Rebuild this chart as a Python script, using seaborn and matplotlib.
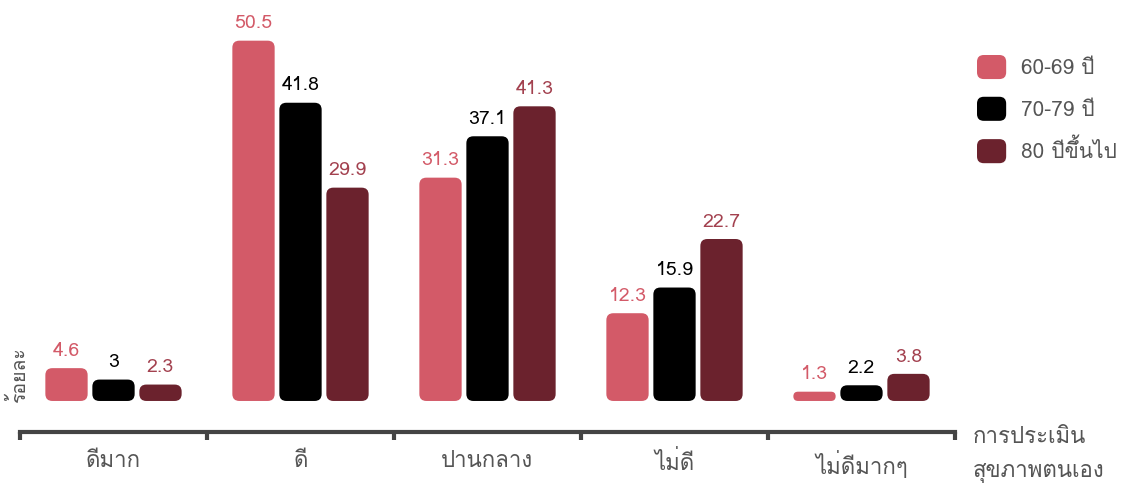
import numpy as np
import pandas as pd
import seaborn as sns
import matplotlib
matplotlib.use("Agg")
import matplotlib.pyplot as plt
from matplotlib import font_manager
from matplotlib.ft2font import FT2Font
from matplotlib.patches import FancyBboxPatch
from matplotlib.legend_handler import HandlerPatch
from matplotlib.patches import Patch

# ---- data -------------------------------------------------------------
categories = ["ดีมาก", "ดี", "ปานกลาง", "ไม่ดี", "ไม่ดีมากๆ"]
age_groups = ["60-69 ปี", "70-79 ปี", "80 ปีขึ้นไป"]
age_60_69 = [4.6, 50.5, 31.3, 12.3, 1.3]
age_70_79 = [3, 41.8, 37.1, 15.9, 2.2]
age_80_plus = [2.3, 29.9, 41.3, 22.7, 3.8]

bar_colors = ["#d35a68", "#000000", "#6b222d"]
text_colors = ["#d35a68", "#000000", "#a3414f"]

df = pd.DataFrame({
    "category": categories * 3,
    "group": [g for g in age_groups for _ in categories],
    "value": age_60_69 + age_70_79 + age_80_plus,
})

# ---- font with Thai coverage -----------------------------------------
def thai_families():
    found = []
    for f in font_manager.fontManager.ttflist:
        try:
            ft = FT2Font(f.fname)
            if ft.get_char_index(ord("ก")) and f.name not in found:
                found.append(f.name)
        except Exception:
            pass
    return found

sns.set_theme(style="white")
thai = thai_families()
plt.rcParams["font.family"] = thai + ["DejaVu Sans"]

# ---- figure -------------------------------------------------------------
fig = plt.figure(figsize=(11.25, 4.92), dpi=100)
ax = fig.add_axes([20 / 1125, 1 - 432 / 492, 935 / 1125, 432 / 492])

sns.barplot(data=df, x="category", y="value", hue="group", order=categories,
            hue_order=age_groups, palette=bar_colors, width=0.754, gap=0.1,
            saturation=1, legend=False, ax=ax, errorbar=None)

ax.set_xlim(-0.5, 4.5)
ax.set_ylim(-4.35, 56.2)

# replace the square bars with rounded ones
fig.canvas.draw()
px_x = ax.transData.transform((1, 0))[0] - ax.transData.transform((0, 0))[0]
px_y = ax.transData.transform((0, 1))[1] - ax.transData.transform((0, 0))[1]
aspect = px_x / px_y
bars = list(ax.patches)
for i, bar in enumerate(bars):
    x, y = bar.get_x(), bar.get_y()
    w, h = bar.get_width(), bar.get_height()
    r_px = min(7, w * px_x / 2, h * px_y / 2)
    rounded = FancyBboxPatch((x, y), w, h,
                             boxstyle=f"round,pad=0,rounding_size={r_px / px_x}",
                             mutation_aspect=aspect,
                             facecolor=bar.get_facecolor(), edgecolor="none",
                             zorder=3)
    bar.set_visible(False)
    ax.add_patch(rounded)
    gi = i // len(categories)
    ax.annotate(f"{h:g}", (x + w / 2, y + h), xytext=(0, 6),
                textcoords="offset points", ha="center", va="bottom",
                fontsize=14, color=text_colors[gi])

# axis styling
for s in ["top", "right", "left"]:
    ax.spines[s].set_visible(False)
ax.spines["bottom"].set_color("#444444")
ax.spines["bottom"].set_linewidth(3)
ax.set_yticks([])
ax.set_ylabel("")
ax.set_xlabel("")
ax.set_xticks(range(len(categories)))
ax.set_xticklabels(categories, fontsize=16, color="#555555")
ax.tick_params(axis="x", which="major", bottom=True, length=0, pad=14)
ax.set_xticks(np.arange(-0.5, len(categories)), minor=True)
ax.tick_params(axis="x", which="minor", bottom=True, direction="out",
               length=6, width=3, color="#444444")

fig.text(18 / 1125, 1 - 375 / 492, "ร้อยละ", rotation=90, ha="center",
         va="center", fontsize=14, color="#555555")
fig.text(973 / 1125, 1 - 427 / 492, "การประเมิน\nสุขภาพตนเอง", ha="left",
         va="top", fontsize=16, color="#555555", linespacing=1.8)

# legend with rounded swatches
def rounded_swatch(legend, orig_handle, xdescent, ydescent, width, height, fontsize):
    return FancyBboxPatch((-xdescent, -ydescent), width, height,
                          boxstyle=f"round,pad=0,rounding_size={height * 0.28}")

handles = [Patch(facecolor=c, edgecolor="none") for c in bar_colors]
leg = fig.legend(handles, age_groups, loc="upper left",
                 bbox_to_anchor=(977 / 1125, 1 - 55 / 492), frameon=False,
                 fontsize=15, handlelength=1.4, handleheight=1.4,
                 labelspacing=0.85, handletextpad=0.7, borderpad=0,
                 borderaxespad=0,
                 handler_map={Patch: HandlerPatch(patch_func=rounded_swatch)})
for t in leg.get_texts():
    t.set_color("#555555")

fig.savefig("out.png", dpi=100)
